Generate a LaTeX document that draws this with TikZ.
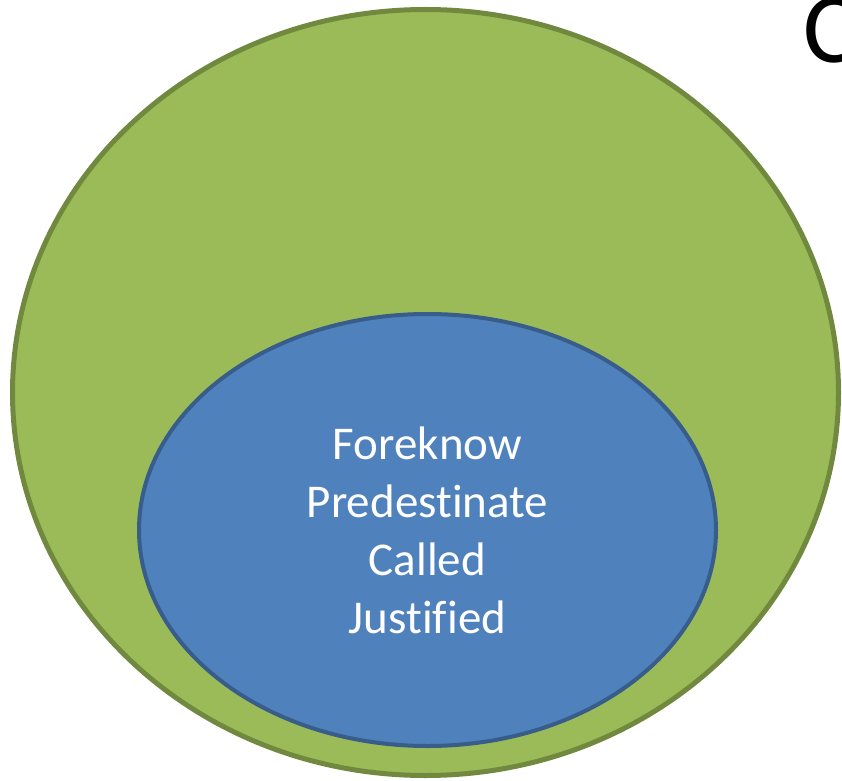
\documentclass[tikz,border=0pt]{standalone}
\usepackage{fontspec}
\setmainfont{Carlito}[Ligatures=NoCommon]
\usetikzlibrary{positioning,shapes.geometric}
\definecolor{outerfill}{HTML}{9BBB59}
\definecolor{outerline}{HTML}{71893F}
\definecolor{innerfill}{HTML}{4F81BD}
\definecolor{innerline}{HTML}{385D8A}

\begin{document}
\begin{tikzpicture}[
    x=1pt, y=1pt,
    blob/.style={ellipse, inner sep=0pt},
    words/.style={align=center, text=white, font=\fontsize{47}{58}\selectfont}
  ]
    \useasboundingbox (0,0) rectangle (842,780);
    \node[blob, draw=outerline, fill=outerfill, line width=5pt, minimum width=826pt, minimum height=766pt] (outer) at (425.5,387.5) {};
    \node[blob, draw=innerline, fill=innerfill, line width=4pt, minimum width=577pt, minimum height=432pt] (inner) at (427.5,250) {};
    \node[words] (list) at (inner.center) {Foreknow\\Predestinate\\Called\\Justified};
    \node[anchor=west, inner sep=0pt, font=\fontsize{100}{120}\selectfont] (title) at (803,750) {C};
  \end{tikzpicture}
\end{document}
